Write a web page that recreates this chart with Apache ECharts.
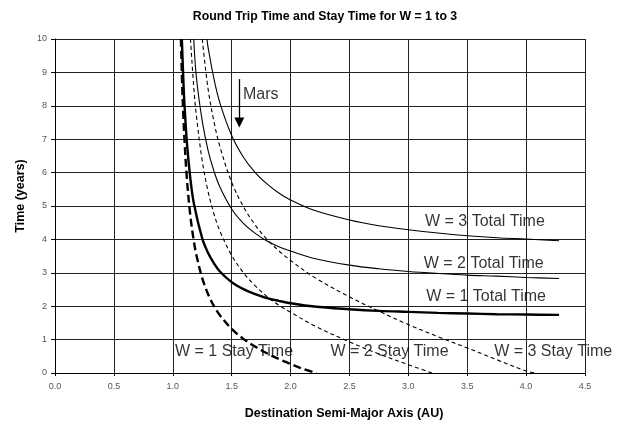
<!DOCTYPE html>
<html>
<head>
<meta charset="utf-8">
<script src="https://cdn.jsdelivr.net/npm/echarts@6/dist/echarts.min.js"></script>
<style>
  html, body { margin: 0; padding: 0; background: #fff; }
  #chart { width: 623px; height: 424px; }
</style>
</head>
<body>
<div id="chart"></div>
<script>
// Semi-major axis (AU) and time (years) for each curve
var w1TotalX = [1.077, 1.09, 1.10, 1.12, 1.15, 1.18, 1.25, 1.30, 1.35, 1.40, 1.50, 1.60, 1.70, 1.80, 1.90, 2.00, 2.20, 2.50, 2.75, 3.00, 3.25, 3.50, 3.75, 4.00, 4.28];
var w1TotalY = [10.0, 8.75, 8.0, 6.9, 5.8, 5.06, 4.03, 3.59, 3.28, 3.04, 2.72, 2.51, 2.36, 2.24, 2.16, 2.09, 1.99, 1.91, 1.86, 1.83, 1.80, 1.78, 1.76, 1.75, 1.74];

var w2TotalX = [1.178, 1.20, 1.25, 1.30, 1.35, 1.40, 1.50, 1.60, 1.70, 1.80, 1.90, 2.00, 2.20, 2.50, 2.75, 3.00, 3.25, 3.50, 3.75, 4.00, 4.28];
var w2TotalY = [10.0, 8.87, 7.55, 6.66, 6.04, 5.57, 4.91, 4.48, 4.18, 3.95, 3.78, 3.65, 3.43, 3.23, 3.12, 3.04, 2.98, 2.93, 2.90, 2.86, 2.83];

var w3TotalX = [1.29, 1.30, 1.35, 1.40, 1.50, 1.60, 1.70, 1.80, 1.90, 2.00, 2.20, 2.50, 2.75, 3.00, 3.25, 3.50, 3.75, 4.00, 4.28];
var w3TotalY = [10.0, 9.74, 8.80, 8.09, 7.11, 6.46, 6.0, 5.66, 5.39, 5.18, 4.87, 4.58, 4.41, 4.29, 4.19, 4.11, 4.05, 4.01, 3.96];

var w1StayX = [1.069, 1.08, 1.09, 1.10, 1.12, 1.15, 1.18, 1.20, 1.25, 1.30, 1.35, 1.40, 1.50, 1.60, 1.70, 1.80, 1.90, 2.00, 2.10, 2.22];
var w1StayY = [10.0, 8.6, 7.68, 6.94, 5.81, 4.68, 3.92, 3.54, 2.84, 2.36, 2.0, 1.73, 1.32, 1.02, 0.79, 0.59, 0.42, 0.27, 0.13, 0];

var w2StayX = [1.15, 1.18, 1.20, 1.25, 1.30, 1.35, 1.40, 1.50, 1.60, 1.70, 1.80, 1.90, 2.00, 2.20, 2.50, 2.75, 3.00, 3.20];
var w2StayY = [10.0, 8.47, 7.72, 6.35, 5.43, 4.76, 4.25, 3.52, 3.0, 2.61, 2.29, 2.03, 1.82, 1.42, 0.93, 0.57, 0.25, 0];

var w3StayX = [1.25, 1.30, 1.35, 1.40, 1.50, 1.60, 1.70, 1.80, 1.90, 2.00, 2.20, 2.50, 2.75, 3.00, 3.25, 3.50, 3.75, 4.00, 4.08];
var w3StayY = [10.0, 8.5, 7.52, 6.78, 5.71, 4.98, 4.43, 4.0, 3.66, 3.37, 2.87, 2.28, 1.85, 1.45, 1.09, 0.75, 0.40, 0.06, 0];

// Curve captions, placed in axis units
var captionText = ['W = 3 Total Time', 'W = 2 Total Time', 'W = 1 Total Time', 'W = 1 Stay Time', 'W = 2 Stay Time', 'W = 3 Stay Time'];
var captionX = [3.65, 3.64, 3.66, 1.52, 2.84, 4.23];
var captionY = [4.53, 3.28, 2.28, 0.64, 0.64, 0.64];

// Mars marker
var marsX = 1.565;
var marsArrowTop = 8.8;
var marsArrowTip = 7.5;
var marsLabel = 'Mars';

var xTickLabels = ['0.0', '0.5', '1.0', '1.5', '2.0', '2.5', '3.0', '3.5', '4.0', '4.5'];

var FONT = '"Liberation Sans", Arial, sans-serif';

function pairs(xs, ys) {
  return xs.map(function (x, i) { return [x, ys[i]]; });
}

function curve(name, xs, ys, width, dash) {
  return {
    name: name,
    type: 'line',
    data: pairs(xs, ys),
    smooth: 0.35,
    symbol: 'none',
    clip: true,
    lineStyle: { color: '#000', width: width, type: dash || 'solid' },
    z: 3
  };
}

var captions = captionText.map(function (t, i) {
  return { value: [captionX[i], captionY[i]], name: t };
});
captions.push({
  value: [marsX + 0.031, 8.35], name: marsLabel,
  label: { align: 'left' }
});

var chart = echarts.init(document.getElementById('chart'), null, { renderer: 'canvas' });

chart.setOption({
  backgroundColor: '#fff',
  animation: false,
  title: {
    text: 'Round Trip Time and Stay Time for W = 1 to 3',
    left: 320, top: 6, textAlign: 'center',
    textStyle: { fontFamily: FONT, fontSize: 12.3, fontWeight: 'bold', color: '#000' }
  },
  grid: { left: 55, right: 38, top: 39, bottom: 51, containLabel: false },
  xAxis: {
    type: 'value', min: 0, max: 4.5, interval: 0.5,
    axisLine: { show: true, lineStyle: { color: '#000', width: 1 } },
    axisTick: { show: true, length: 3, lineStyle: { color: '#000' } },
    axisLabel: {
      margin: 9, color: '#555', fontSize: 9, fontFamily: FONT,
      formatter: function (v) { return xTickLabels[Math.round(v / 0.5)]; }
    },
    splitLine: { show: true, lineStyle: { color: '#222', width: 1 } }
  },
  yAxis: {
    type: 'value', min: 0, max: 10, interval: 1,
    axisLine: { show: true, lineStyle: { color: '#000', width: 1 } },
    axisTick: { show: true, length: 4, lineStyle: { color: '#000' } },
    axisLabel: { margin: 8, color: '#555', fontSize: 9, fontFamily: FONT },
    splitLine: { show: true, lineStyle: { color: '#222', width: 1 } }
  },
  graphic: [
    {
      type: 'text', x: 344, y: 414,
      style: {
        text: 'Destination Semi-Major Axis (AU)',
        align: 'center', verticalAlign: 'middle',
        font: 'bold 12.5px ' + FONT, fill: '#000'
      }
    },
    {
      type: 'text', x: 21, y: 196, rotation: Math.PI / 2,
      style: {
        text: 'Time (years)',
        align: 'center', verticalAlign: 'middle',
        font: 'bold 12.5px ' + FONT, fill: '#000'
      }
    }
  ],
  series: [
    curve('W = 1 Total Time', w1TotalX, w1TotalY, 2.4),
    curve('W = 2 Total Time', w2TotalX, w2TotalY, 1.1),
    curve('W = 3 Total Time', w3TotalX, w3TotalY, 1.1),
    curve('W = 1 Stay Time', w1StayX, w1StayY, 2.4, [8, 4]),
    curve('W = 2 Stay Time', w2StayX, w2StayY, 1.1, [4, 3]),
    curve('W = 3 Stay Time', w3StayX, w3StayY, 1.1, [4, 3]),
    {
      name: 'captions',
      type: 'scatter',
      data: captions,
      symbolSize: 0,
      clip: false,
      z: 5,
      label: {
        show: true, position: 'inside', align: 'center', verticalAlign: 'middle',
        formatter: function (p) { return p.name; },
        fontFamily: FONT, fontSize: 16, color: '#000'
      },
      emphasis: { disabled: true },
      markLine: {
        silent: true,
        symbol: ['none', 'triangle'],
        symbolSize: [10, 10],
        label: { show: false },
        lineStyle: { color: '#000', width: 1.3, type: 'solid' },
        data: [[{ coord: [marsX, marsArrowTop] }, { coord: [marsX, marsArrowTip] }]]
      }
    }
  ]
});
</script>
</body>
</html>
